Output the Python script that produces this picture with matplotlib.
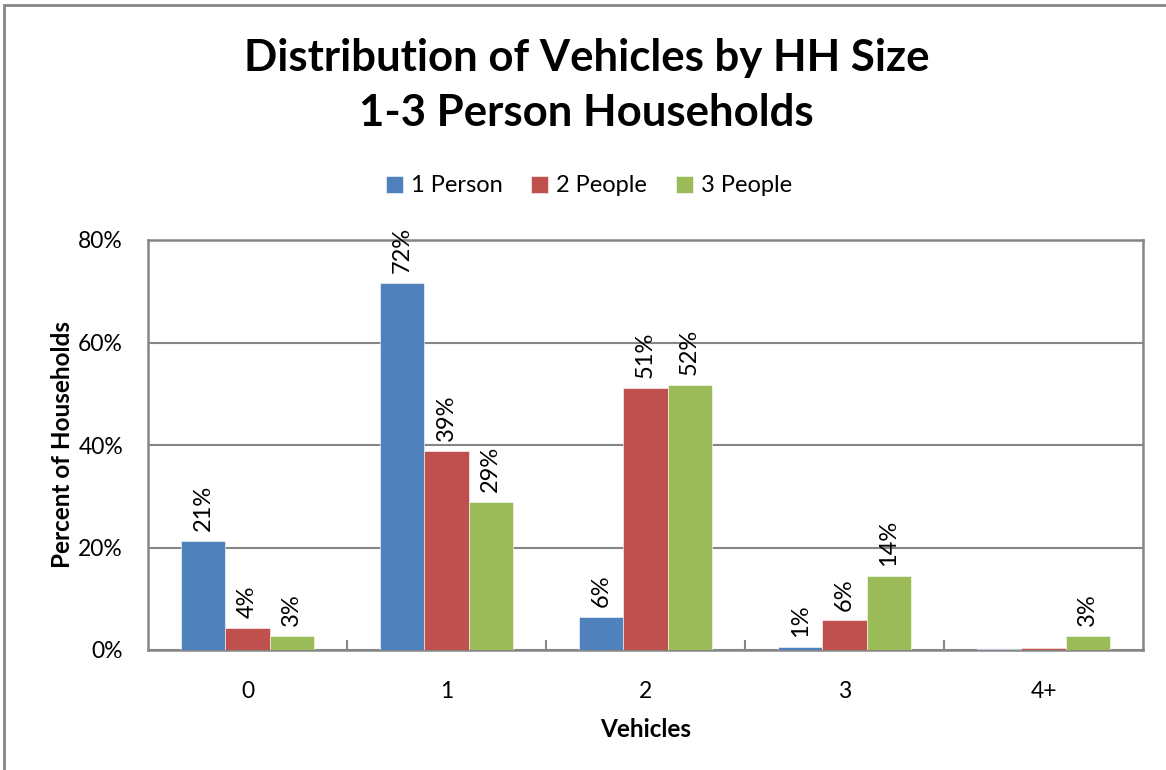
import matplotlib.pyplot as plt
import numpy as np
from matplotlib.patches import Rectangle

plt.rcParams["font.family"] = ["Lato", "DejaVu Sans"]

vehicles = ["0", "1", "2", "3", "4+"]
series = ["1 Person", "2 People", "3 People"]
one_person = [0.213, 0.716, 0.064, 0.006, 0.002]
two_people = [0.043, 0.388, 0.511, 0.058, 0.003]
three_people = [0.027, 0.289, 0.517, 0.144, 0.027]
# which bars carry a value label
show_label = [
    [True, True, True, True, False],
    [True, True, True, True, False],
    [True, True, True, True, True],
]
colors = ["#4F81BD", "#C0504D", "#9BBB59"]
grey = "#868686"

fig = plt.figure(figsize=(11.66, 7.7), dpi=100)
ax = fig.add_axes([148 / 1166, 120 / 770, 995 / 1166, 410 / 770])

# outer chart border (only left and top edges fall inside the image)
fig.patches.append(Rectangle((4 / 1166, -0.1), 1.2, 1.1 - 5 / 770,
                             transform=fig.transFigure, fill=False,
                             edgecolor=grey, linewidth=2))

x = np.arange(len(vehicles))
w = 0.222
for i, (name, vals) in enumerate(zip(series, [one_person, two_people, three_people])):
    pos = x + (i - 1) * w
    bars = ax.bar(pos, vals, width=w, color=colors[i], label=name,
                  edgecolor="white", linewidth=0.4, zorder=3)
    for b, v, s in zip(bars, vals, show_label[i]):
        if s:
            ax.annotate(f"{v:.0%}", (b.get_x() + b.get_width() / 2, v),
                        xytext=(0, 7), textcoords="offset points",
                        rotation=90, ha="center", va="bottom", fontsize=17)

ax.set_xlim(-0.5, 4.5)
ax.set_ylim(0, 0.8)
ax.set_yticks([0, 0.2, 0.4, 0.6, 0.8])
ax.set_yticklabels(["0%", "20%", "40%", "60%", "80%"], fontsize=16.5)
ax.yaxis.grid(True, color=grey, linewidth=1.5, zorder=0)
ax.tick_params(axis="y", length=0, pad=18)

ax.set_xticks(x)
ax.set_xticklabels(vehicles, fontsize=16.5)
ax.set_xticks(np.arange(0.5, 4.5, 1), minor=True)
ax.tick_params(axis="x", which="major", length=0, pad=22)
ax.tick_params(axis="x", which="minor", direction="in", length=7,
               width=1.5, color=grey)

for sp in ax.spines.values():
    sp.set_color(grey)
    sp.set_linewidth(1.8)

ax.set_xlabel("Vehicles", fontsize=17.5, fontweight="bold", labelpad=12)
ax.set_ylabel("Percent of Households", fontsize=17.5, fontweight="bold", labelpad=3)

fig.text(0.503, 1 - 58 / 770, "Distribution of Vehicles by HH Size", ha="center",
         va="center", fontsize=31.5, fontweight="bold")
fig.text(0.503, 1 - 113 / 770, "1-3 Person Households", ha="center",
         va="center", fontsize=31.5, fontweight="bold")

fig.legend(loc="center", bbox_to_anchor=(0.505, 1 - 186 / 770), ncol=3,
           frameon=False, fontsize=17, handlelength=0.72, handleheight=0.72,
           handletextpad=0.35, columnspacing=1.2)

fig.savefig("out.png", dpi=100)
